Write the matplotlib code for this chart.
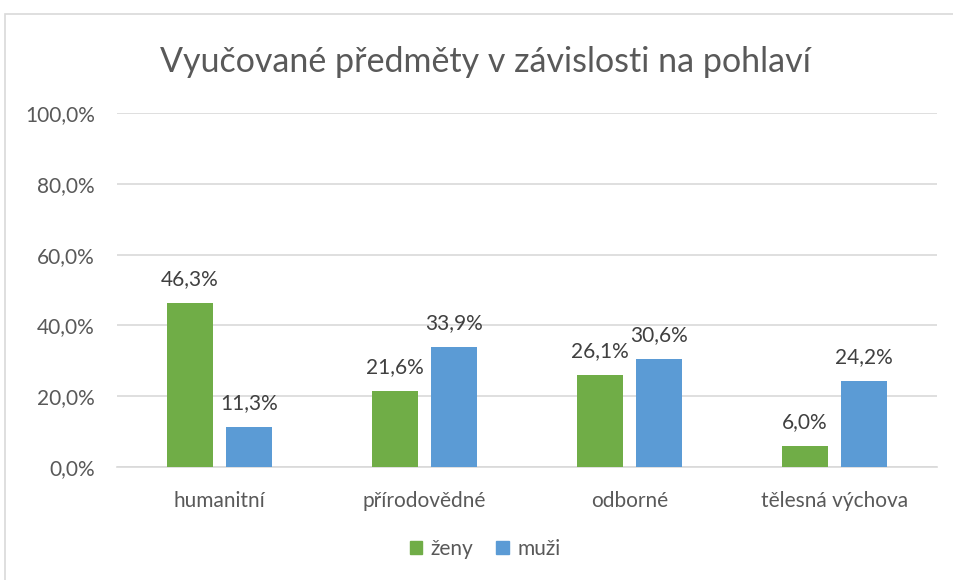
import matplotlib
matplotlib.use("Agg")
import matplotlib.pyplot as plt
from matplotlib.patches import Rectangle, Patch
import numpy as np

plt.rcParams['font.family'] = ['Lato', 'DejaVu Sans']

categories = ["humanitní", "přírodovědné", "odborné", "tělesná výchova"]
zeny = [46.3, 21.6, 26.1, 6.0]
muzi = [11.3, 33.9, 30.6, 24.2]
yticks = [0, 20, 40, 60, 80, 100]
title = "Vyučované předměty v závislosti na pohlaví"

W, H = 954, 580
fig = plt.figure(figsize=(W / 100, H / 100), dpi=100)
fig.patch.set_facecolor("white")

# chart border
fig.patches.append(Rectangle((5 / W, -0.1), 1.2, 1 - 14 / H + 0.1, transform=fig.transFigure,
                             fill=False, edgecolor="#D9D9D9", linewidth=1.2))

ax = fig.add_axes([117 / W, 1 - 467 / H, (937 - 117) / W, (467 - 113) / H])
x = np.arange(len(categories))
w = 0.225
off = 0.144
green = "#70AD47"
blue = "#5B9BD5"
b1 = ax.bar(x - off, zeny, w, color=green, zorder=3)
b2 = ax.bar(x + off, muzi, w, color=blue, zorder=3)

ax.set_xlim(-0.5, len(categories) - 0.5)
ax.set_ylim(0, 100)
ax.set_yticks(yticks)
ax.set_yticklabels([f"{v:.1f}%".replace(".", ",") for v in yticks])
ax.set_xticks(x)
ax.set_xticklabels(categories)
ax.tick_params(axis="both", length=0, labelsize=15, colors="#595959")
ax.tick_params(axis="y", pad=16)
ax.tick_params(axis="x", pad=17)
ax.grid(axis="y", color="#D9D9D9", linewidth=1.2, zorder=0)
for s in ["top", "right", "left"]:
    ax.spines[s].set_visible(False)
ax.spines["bottom"].set_color("#D9D9D9")
ax.spines["bottom"].set_linewidth(1.2)

for bars, vals in [(b1, zeny), (b2, muzi)]:
    for r, v in zip(bars, vals):
        ax.annotate(f"{v:.1f}%".replace(".", ","), (r.get_x() + r.get_width() / 2, v),
                    xytext=(0, 10), textcoords="offset points", ha="center", va="bottom",
                    fontsize=15, color="#404040")

fig.text(485 / W, 1 - 62 / H, title, ha="center", va="center", fontsize=24.5, color="#595959")

fig.legend(handles=[Patch(color=green, label="ženy"), Patch(color=blue, label="muži")],
           loc="center", bbox_to_anchor=(485 / W, 1 - 549 / H), ncol=2, frameon=False,
           fontsize=15, labelcolor="#595959", handlelength=0.6, handleheight=0.6,
           handletextpad=0.4, columnspacing=1.1)

fig.savefig("out.png", dpi=100, facecolor="white")
